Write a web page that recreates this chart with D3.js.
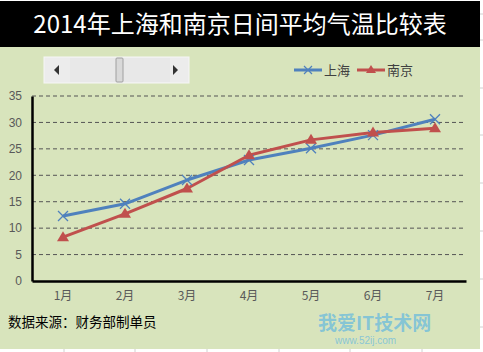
<!DOCTYPE html>
<html>
<head>
<meta charset="utf-8">
<script src="https://cdn.jsdelivr.net/npm/d3@7"></script>
<style>
  body { margin: 0; background: #fff; }
  text { font-family: "Noto Sans CJK SC", "Liberation Sans", sans-serif; }
</style>
</head>
<body>
<div id="chart"></div>
<script>
const width = 483;
const height = 352;

// Data
const months = ['1月', '2月', '3月', '4月', '5月', '6月', '7月'];
const shanghai = [12.3, 14.6, 19.1, 22.9, 25.1, 27.6, 30.6];
const nanjing = [8.3, 12.7, 17.5, 23.8, 26.7, 28.1, 28.9];
const yTicks = [0, 5, 10, 15, 20, 25, 30, 35];
const seriesNames = ['上海', '南京'];
const colors = ['#4f81bd', '#c0504d'];

const svg = d3.select('#chart')
    .append('svg')
    .attr('width', width)
    .attr('height', height);

// Background
svg.append('rect')
    .attr('x', 0).attr('y', 47)
    .attr('width', 480).attr('height', 302)
    .attr('fill', '#d8e4bc');

// Excel cell lines outside the chart
[14, 40, 88, 135, 183, 231, 279, 327].forEach(y => {
    svg.append('line')
        .attr('x1', 480).attr('x2', 483)
        .attr('y1', y).attr('y2', y)
        .attr('stroke', '#d0d0d0');
});
[64, 135, 207, 279, 350, 422].forEach(x => {
    svg.append('line')
        .attr('x1', x).attr('x2', x)
        .attr('y1', 349).attr('y2', 352)
        .attr('stroke', '#d0d0d0');
});

// Title bar
svg.append('rect')
    .attr('x', 0).attr('y', 1)
    .attr('width', 480).attr('height', 46)
    .attr('fill', '#000');

svg.append('text')
    .attr('x', 240).attr('y', 33)
    .attr('text-anchor', 'middle')
    .attr('fill', '#fff')
    .attr('font-size', 24)
    .text('2014年上海和南京日间平均气温比较表');

// Scrollbar control
const sb = svg.append('g');
sb.append('rect')
    .attr('x', 44).attr('y', 57)
    .attr('width', 145).attr('height', 26)
    .attr('fill', '#ececec')
    .attr('stroke', '#f6f6f6');
sb.append('rect')
    .attr('x', 70).attr('y', 58)
    .attr('width', 100).attr('height', 24)
    .attr('fill', '#e8e8e8');
sb.append('path')
    .attr('d', 'M54,70 L59,65 L59,75 Z')
    .attr('fill', '#333');
sb.append('path')
    .attr('d', 'M178,70 L173,65 L173,75 Z')
    .attr('fill', '#333');
sb.append('rect')
    .attr('x', 116).attr('y', 58)
    .attr('width', 7).attr('height', 24)
    .attr('rx', 1)
    .attr('fill', '#d9d9d9')
    .attr('stroke', '#a0a0a0');

// Scales
const x = d3.scaleBand()
    .domain(months)
    .range([32, 466]);

const y = d3.scaleLinear()
    .domain([0, 35])
    .range([281, 96]);

// Gridlines
svg.append('g')
    .selectAll('line')
    .data(yTicks.filter(d => d > 0))
    .enter().append('line')
    .attr('x1', 32).attr('x2', 466)
    .attr('y1', d => y(d)).attr('y2', d => y(d))
    .attr('stroke', '#555')
    .attr('stroke-width', 1)
    .attr('stroke-dasharray', '4,3');

// Y axis
const yAxis = svg.append('g')
    .attr('transform', 'translate(32,0)')
    .call(d3.axisLeft(y).tickValues(yTicks).tickSize(0).tickPadding(10));
yAxis.select('.domain').attr('stroke', '#000').attr('stroke-width', 2.5);
yAxis.selectAll('text')
    .attr('fill', '#595959')
    .attr('font-size', 12)
    .style('font-family', '"Liberation Sans", sans-serif');

// X axis
const xAxis = svg.append('g')
    .attr('transform', 'translate(0,281)')
    .call(d3.axisBottom(x).tickSize(0).tickPadding(10));
xAxis.select('.domain').attr('stroke', '#000').attr('stroke-width', 2.5);
xAxis.selectAll('text')
    .attr('fill', '#595959')
    .attr('font-size', 12);

// Lines
const series = [shanghai, nanjing];
const line = d3.line()
    .x((d, i) => x(months[i]) + x.bandwidth() / 2)
    .y(d => y(d));

series.forEach((s, k) => {
    svg.append('path')
        .datum(s)
        .attr('fill', 'none')
        .attr('stroke', colors[k])
        .attr('stroke-width', 3)
        .attr('stroke-linejoin', 'round')
        .attr('d', line);
});

// Markers: cross for Shanghai
svg.append('g')
    .selectAll('path')
    .data(shanghai)
    .enter().append('path')
    .attr('transform', (d, i) => `translate(${x(months[i]) + x.bandwidth() / 2},${y(d)})`)
    .attr('d', 'M-5,-5 L5,5 M-5,5 L5,-5')
    .attr('stroke', colors[0])
    .attr('stroke-width', 1.3)
    .attr('fill', 'none');

// Markers: triangle for Nanjing
svg.append('g')
    .selectAll('path')
    .data(nanjing)
    .enter().append('path')
    .attr('transform', (d, i) => `translate(${x(months[i]) + x.bandwidth() / 2},${y(d)})`)
    .attr('d', 'M0,-6 L6,4 L-6,4 Z')
    .attr('fill', colors[1]);

// Legend
const legend = svg.append('g');
seriesNames.forEach((name, k) => {
    const lx = 294 + k * 63;
    legend.append('line')
        .attr('x1', lx).attr('x2', lx + 28)
        .attr('y1', 70).attr('y2', 70)
        .attr('stroke', colors[k])
        .attr('stroke-width', 3);
    if (k === 0) {
        legend.append('path')
            .attr('d', `M${lx + 10},66 L${lx + 18},74 M${lx + 10},74 L${lx + 18},66`)
            .attr('stroke', colors[0])
            .attr('stroke-width', 1.2);
    } else {
        legend.append('path')
            .attr('d', `M${lx + 14},65 L${lx + 19},73 L${lx + 9},73 Z`)
            .attr('fill', colors[1]);
    }
    legend.append('text')
        .attr('x', lx + 30).attr('y', 75)
        .attr('fill', '#404040')
        .attr('font-size', 13)
        .text(name);
});

// Source note
svg.append('text')
    .attr('x', 8).attr('y', 327)
    .attr('fill', '#000')
    .attr('font-size', 13.5)
    .text('数据来源：财务部制单员');

// Watermark
svg.append('text')
    .attr('x', 318).attr('y', 330)
    .attr('fill', '#4fb0e6')
    .attr('fill-opacity', 0.6)
    .attr('font-size', 19)
    .attr('font-weight', 'bold')
    .text('我爱IT技术网');
svg.append('text')
    .attr('x', 335).attr('y', 344)
    .attr('fill', '#4fb0e6')
    .attr('fill-opacity', 0.6)
    .attr('font-size', 10)
    .style('font-family', '"Liberation Sans", sans-serif')
    .text('www.52ij.com');
</script>
</body>
</html>
